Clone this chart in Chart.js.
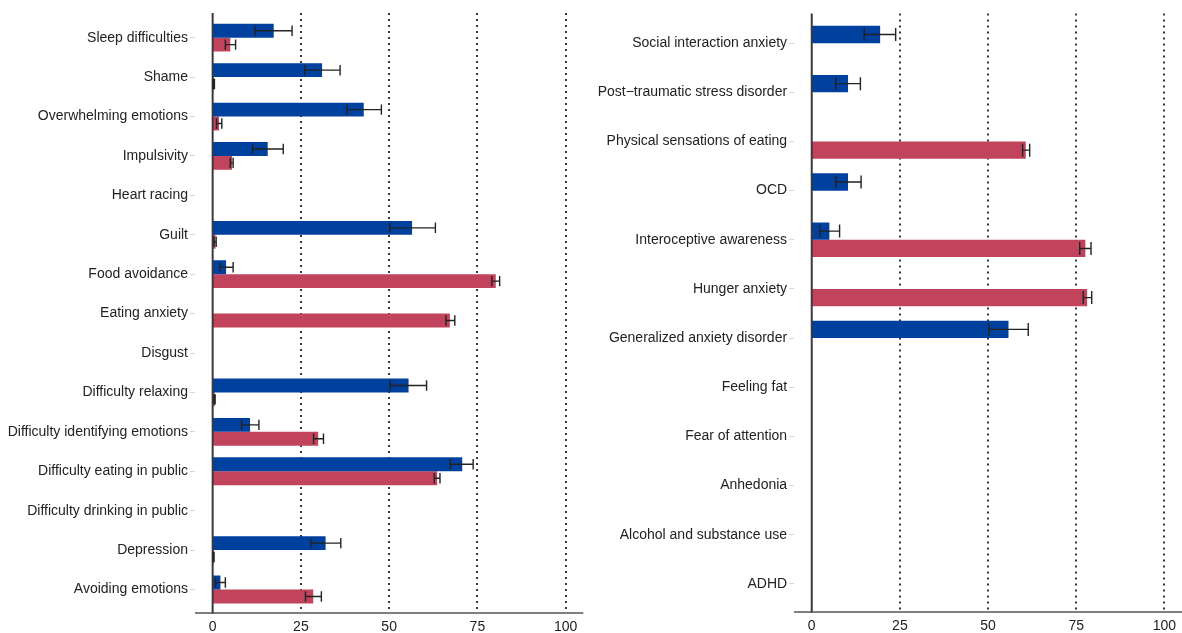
<!DOCTYPE html>
<html>
<head>
<meta charset="utf-8">
<script src="https://cdn.jsdelivr.net/npm/chart.js@4/dist/chart.umd.min.js"></script>
<style>
  html, body { margin: 0; padding: 0; background: #fff; overflow: hidden; }
  #wrap { position: relative; width: 1182px; height: 633px; }
  .panel { position: absolute; top: 0; height: 633px; }
  #p1 { left: 0; width: 595px; }
  #p2 { left: 595px; width: 587px; }
</style>
</head>
<body>
<div id="wrap">
  <div class="panel" id="p1"><canvas id="c1"></canvas></div>
  <div class="panel" id="p2"><canvas id="c2"></canvas></div>
</div>
<script>
// ---------- DATA ----------
const xTickValues = [0, 25, 50, 75, 100];

const leftCategories = [
  "Sleep difficulties", "Shame", "Overwhelming emotions", "Impulsivity", "Heart racing",
  "Guilt", "Food avoidance", "Eating anxiety", "Disgust", "Difficulty relaxing",
  "Difficulty identifying emotions", "Difficulty eating in public", "Difficulty drinking in public",
  "Depression", "Avoiding emotions"
];
const leftBlue     = [17.3, 31.0, 42.8, 15.6, null, 56.5, 3.8, null, null, 55.5, 10.6, 70.7, null, 32.0, 2.2];
const leftBlueLow  = [12.0, 26.1, 38.0, 11.3, null, 50.2, 2.1, null, null, 50.3,  8.2, 67.3, null, 27.8, 0.8];
const leftBlueHigh = [22.5, 36.1, 47.8, 20.0, null, 63.1, 5.8, null, null, 60.6, 13.1, 73.8, null, 36.3, 3.6];
const leftRed      = [5.0, 0.3, 1.8, 5.5, null, 0.8, 80.2, 67.2, null, 0.6, 29.9, 63.6, null, 0.3, 28.5];
const leftRedLow   = [3.6, 0.1, 1.1, 5.0, null, 0.4, 79.1, 66.1, null, 0.4, 28.6, 62.8, null, 0.2, 26.3];
const leftRedHigh  = [6.5, 0.5, 2.6, 5.8, null, 1.0, 81.3, 68.6, null, 0.7, 31.4, 64.4, null, 0.4, 30.8];

const rightCategories = [
  "Social interaction anxiety", "Post\u2212traumatic stress disorder", "Physical sensations of eating",
  "OCD", "Interoceptive awareness", "Hunger anxiety", "Generalized anxiety disorder",
  "Feeling fat", "Fear of attention", "Anhedonia", "Alcohol and substance use", "ADHD"
];
const rightBlue     = [19.4, 10.3, null, 10.3, 5.0, null, 55.8, null, null, null, null, null];
const rightBlueLow  = [14.9,  6.8, null,  6.8, 2.3, null, 50.2, null, null, null, null, null];
const rightBlueHigh = [23.8, 13.8, null, 14.0, 7.9, null, 61.4, null, null, null, null, null];
const rightRed      = [null, null, 60.7, null, 77.6, 78.1, null, null, null, null, null, null];
const rightRedLow   = [null, null, 59.8, null, 76.0, 77.0, null, null, null, null, null, null];
const rightRedHigh  = [null, null, 61.8, null, 79.2, 79.4, null, null, null, null, null, null];

// ---------- STYLE ----------
const BLUE = '#00409e';
const RED = '#c1445c';
const FONT = { family: "'Liberation Sans', Arial, sans-serif", size: 14 };
const XFONT = { family: "'Liberation Sans', Arial, sans-serif", size: 14, lineHeight: 2.6 };

const panelPlugin = {
  id: 'panelDecor',
  beforeDatasetsDraw(chart) {
    const ctx = chart.ctx, xs = chart.scales.x, ca = chart.chartArea;
    const top = ca.top - 5, bottom = ca.bottom + 3.7;
    ctx.save();
    ctx.strokeStyle = '#222';
    ctx.lineWidth = 1.8;
    ctx.setLineDash([2, 4]);
    xTickValues.forEach(v => {
      if (v === 0) return;
      const x = Math.round(xs.getPixelForValue(v));
      ctx.beginPath(); ctx.moveTo(x, top); ctx.lineTo(x, bottom); ctx.stroke();
    });
    ctx.restore();
  },
  afterDatasetsDraw(chart) {
    const ctx = chart.ctx, xs = chart.scales.x, ca = chart.chartArea;
    const top = ca.top - 5, bottom = ca.bottom + 3.7;
    const err = chart.options.plugins.panelDecor.errors;
    ctx.save();
    // zero line
    const x0 = xs.getPixelForValue(0);
    ctx.strokeStyle = '#3a3a3a'; ctx.lineWidth = 2;
    ctx.beginPath(); ctx.moveTo(x0, top); ctx.lineTo(x0, bottom + 1); ctx.stroke();
    // x axis line
    ctx.strokeStyle = '#555'; ctx.lineWidth = 1.5;
    ctx.beginPath(); ctx.moveTo(ca.left, bottom); ctx.lineTo(ca.right, bottom); ctx.stroke();
    // error bars
    ctx.strokeStyle = '#222'; ctx.lineWidth = 1.4;
    chart.data.datasets.forEach((ds, i) => {
      const meta = chart.getDatasetMeta(i);
      const lo = err[i][0], hi = err[i][1];
      meta.data.forEach((el, j) => {
        if (ds.data[j] == null || lo[j] == null) return;
        const y = el.y, h = el.height * 0.75;
        const xl = xs.getPixelForValue(lo[j]), xh = xs.getPixelForValue(hi[j]);
        ctx.beginPath();
        ctx.moveTo(xl, y); ctx.lineTo(xh, y);
        ctx.moveTo(xl, y - h / 2); ctx.lineTo(xl, y + h / 2);
        ctx.moveTo(xh, y - h / 2); ctx.lineTo(xh, y + h / 2);
        ctx.stroke();
      });
    });
    ctx.restore();
  }
};

function makeChart(id, cats, blue, red, errs, yWidth, top, bottom, padRight) {
  return new Chart(document.getElementById(id), {
    type: 'bar',
    data: {
      labels: cats,
      datasets: [
        { label: 'Group 1', data: blue, backgroundColor: BLUE, borderWidth: 0,
          categoryPercentage: 0.705, barPercentage: 1.0 },
        { label: 'Group 2', data: red, backgroundColor: RED, borderWidth: 0,
          categoryPercentage: 0.705, barPercentage: 1.0 }
      ]
    },
    options: {
      indexAxis: 'y',
      responsive: true,
      maintainAspectRatio: false,
      animation: false,
      layout: { padding: { top: top, right: padRight, left: 0, bottom: 0 } },
      plugins: {
        legend: { display: false },
        tooltip: { enabled: false },
        panelDecor: { errors: errs }
      },
      scales: {
        x: {
          type: 'linear', min: -5, max: 105,
          afterBuildTicks: s => { s.ticks = xTickValues.map(v => ({ value: v })); },
          afterFit: s => { s.height = 633 - bottom; },
          grid: { display: false, drawTicks: false },
          border: { display: false },
          ticks: { font: XFONT, color: '#222', padding: 0, maxRotation: 0 }
        },
        y: {
          type: 'category',
          afterFit: s => { s.width = yWidth; },
          grid: { display: true, drawOnChartArea: false, offset: false, drawTicks: true,
                  tickLength: 5, color: '#d6d6d6', lineWidth: 1 },
          border: { display: false },
          ticks: { font: FONT, color: '#222', padding: 2, autoSkip: false }
        }
      }
    },
    plugins: [panelPlugin]
  });
}

makeChart('c1', leftCategories, leftBlue, leftRed,
  [[leftBlueLow, leftBlueHigh], [leftRedLow, leftRedHigh]], 195, 18, 609.2, 11.7);
makeChart('c2', rightCategories, rightBlue, rightRed,
  [[rightBlueLow, rightBlueHigh], [rightRedLow, rightRedHigh]], 199.1, 18.6, 608.4, 0);
</script>
</body>
</html>
